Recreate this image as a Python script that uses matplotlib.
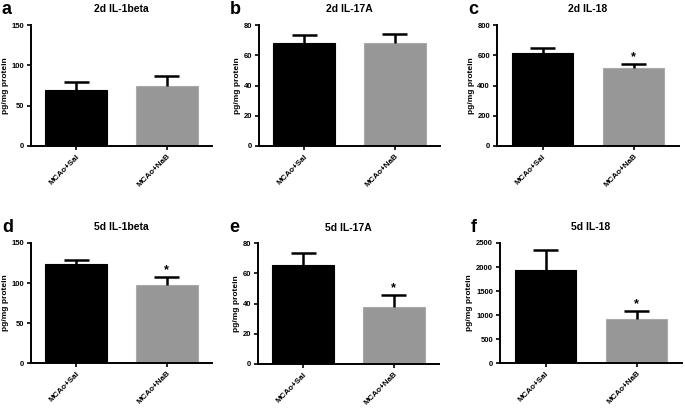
import matplotlib.pyplot as plt
import numpy as np

groups = ['MCAo+Sal', 'MCAo+NaB']
titles = ['2d IL-1beta', '2d IL-17A', '2d IL-18', '5d IL-1beta', '5d IL-17A', '5d IL-18']
letters = ['a', 'b', 'c', 'd', 'e', 'f']
means = [[70, 75], [68, 68], [613, 513], [124, 98], [65.5, 37.5], [1936, 926]]
errs = [[9, 11.5], [5.5, 6], [33, 29], [4.6, 9.5], [8, 8.3], [425, 160]]
ymax = [150, 80, 800, 150, 80, 2500]
ysteps = [50, 20, 200, 50, 20, 500]
stars = [[False, False], [False, False], [False, True], [False, True], [False, True], [False, True]]

plt.rcParams['font.family'] = ['Liberation Sans', 'DejaVu Sans']
plt.rcParams['font.weight'] = 'bold'

fig = plt.figure(figsize=(6.85, 4.08), dpi=100)
W, H = 685., 408.
# axes boxes in pixels: left, top, right, bottom
boxes = [(31, 25, 212, 146), (259, 25, 440, 146), (497, 25, 679, 146),
         (31, 243, 212, 363), (258, 243, 439, 364), (500, 243, 682, 363)]
colors = ['black', '#979797']

for i in range(6):
    l, t, r, b = boxes[i]
    ax = fig.add_axes([l / W, 1 - b / H, (r - l) / W, (b - t) / H])
    x = np.arange(2)
    ax.bar(x, means[i], width=0.68, color=colors, edgecolor=['black', '#aaaaaa'], linewidth=0.8, zorder=2)
    for j in range(2):
        top = means[i][j] + errs[i][j]
        ax.vlines(x[j], means[i][j], top, color='black', linewidth=1.8, zorder=3)
        ax.hlines(top, x[j] - 0.14, x[j] + 0.14, color='black', linewidth=1.8, zorder=3)
        if stars[i][j]:
            ax.text(x[j], top + ymax[i] * 0.005, '*',
                    ha='center', va='bottom', fontsize=9, fontweight='bold')
    ax.set_xlim(-0.5, 1.5)
    ax.set_ylim(0, ymax[i])
    ax.set_yticks(np.arange(0, ymax[i] + 1, ysteps[i]))
    ax.set_xticks(x)
    ax.set_xticklabels(groups, rotation=45, ha='right', rotation_mode='anchor', fontsize=5.8)
    ax.tick_params(axis='y', labelsize=5.5, width=1.2, length=3, pad=2)
    ax.tick_params(axis='x', width=1.2, length=3, pad=2)
    for s in ['top', 'right']:
        ax.spines[s].set_visible(False)
    for s in ['left', 'bottom']:
        ax.spines[s].set_linewidth(1.4)
    ax.set_ylabel('pg/mg protein', fontsize=6, fontweight='bold', labelpad=2)
    ax.set_title(titles[i], fontsize=7.5, fontweight='bold', pad=9)
    fig.text((l - 29) / W, 1 - (t - 16) / H, letters[i], fontsize=13, fontweight='bold',
             ha='left', va='center')

fig.savefig('out.png', dpi=100)
